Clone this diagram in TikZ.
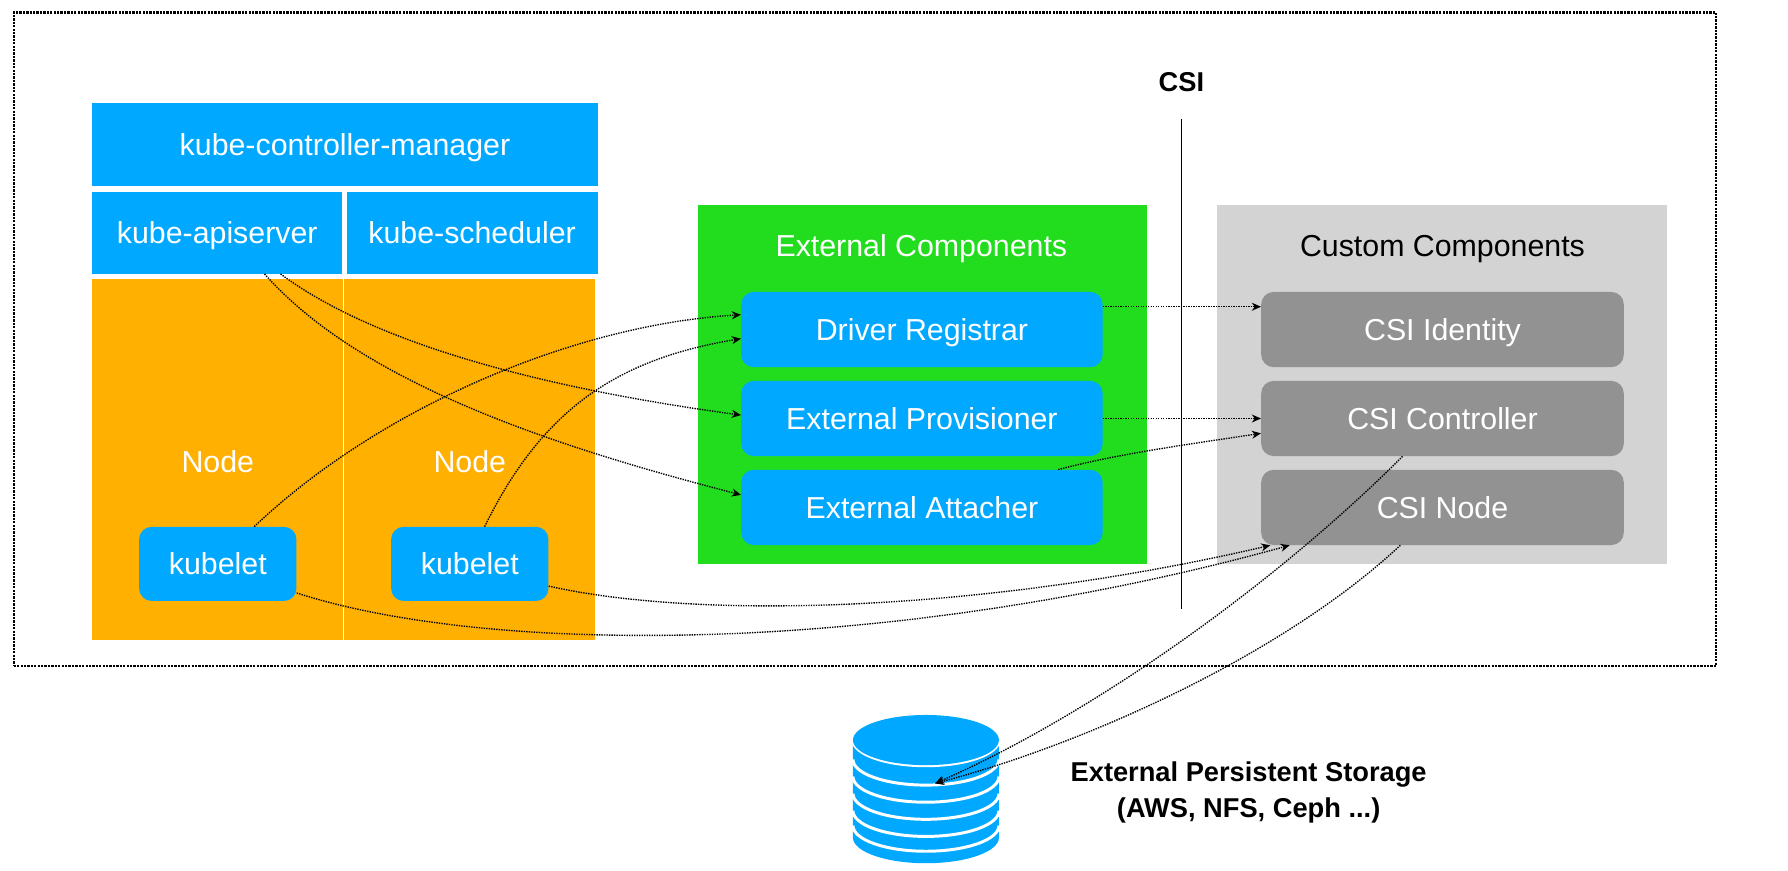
\documentclass[tikz,border=0pt]{standalone}
\usepackage{fontspec}
\setmainfont{Liberation Sans}
\usetikzlibrary{arrows.meta}
\definecolor{kubeblue}{HTML}{00A9FF}
\definecolor{nodeorange}{HTML}{FFB000}
\definecolor{extgreen}{HTML}{22DD1E}
\definecolor{custgray}{HTML}{D3D3D3}
\definecolor{csigray}{HTML}{929292}
\tikzset{
	box/.style={inner sep=0pt, text=white, text height=19pt, text depth=0pt, font=\fontsize{26.6}{30}\selectfont},
	bluebox/.style={box, fill=kubeblue},
	nodebox/.style={box, fill=nodeorange, minimum width=220pt, minimum height=316pt},
	kubeletbox/.style={bluebox, rounded corners=11pt, minimum width=138pt, minimum height=65pt},
	extbox/.style={bluebox, rounded corners=11pt, minimum width=317pt, minimum height=66pt},
	csibox/.style={box, fill=csigray, rounded corners=11pt, minimum width=318pt, minimum height=66pt},
	groupbox/.style={box, minimum width=394pt, minimum height=315pt},
	title/.style={inner sep=0pt, text height=19pt, text depth=0pt, font=\fontsize{26.6}{30}\selectfont},
	boldtitle/.style={inner sep=0pt, text height=17pt, text depth=0pt, font=\fontsize{23.9}{30}\selectfont\bfseries},
	link/.style={densely dotted, line width=1.2pt, -{Stealth[length=8pt,width=7pt]}}
}
\begin{document}
\begin{tikzpicture}[x=1pt,y=-1pt]
\useasboundingbox (0,0) rectangle (1568,763);
\node[minimum width=1493pt, minimum height=573pt, draw=black, densely dotted, line width=2pt] (outer) at (758.5,297.5) {};
\node[bluebox, minimum width=443pt, minimum height=73pt] (manager) at (302.5,126.5) {kube-controller-manager};
\node[bluebox, minimum width=219pt, minimum height=72pt] (apiserver) at (190.5,204) {kube-apiserver};
\node[bluebox, minimum width=220pt, minimum height=72pt] (scheduler) at (414,204) {kube-scheduler};
\node[nodebox] (nodeA) at (191,403) {};
\node[nodebox] (nodeB) at (412,403) {};
\node[title, text=white] (nodeAtext) at (191,405) {Node};
\node[title, text=white] (nodeBtext) at (412,405) {Node};
\node[kubeletbox] (kubeletA) at (191,494.5) {kubelet};
\node[kubeletbox] (kubeletB) at (412,494.5) {kubelet};
\node[groupbox, fill=extgreen] (external) at (809,337.5) {};
\node[title, text=white] (externaltext) at (808,215) {External Components};
\node[extbox] (registrar) at (808.5,289) {Driver Registrar};
\node[extbox] (provisioner) at (808.5,367) {External Provisioner};
\node[extbox] (attacher) at (808.5,445) {External Attacher};
\node[groupbox, fill=custgray] (custom) at (1264.5,337.5) {};
\node[title] (customtext) at (1265,215) {Custom Components};
\node[csibox] (identity) at (1265,289) {CSI Identity};
\node[csibox] (controller) at (1265,367) {CSI Controller};
\node[csibox] (csinode) at (1265,445) {CSI Node};
\node[boldtitle] (csitext) at (1036,72) {CSI};
\coordinate (csitop) at (1036,104);
\coordinate (csibottom) at (1036,534);
\draw[line width=1.4pt] (csitop) -- (csibottom);
\fill[kubeblue] (748,649) -- (876,649) -- (876,734.5) arc [start angle=0, end angle=-180, x radius=64pt, y radius=22.5pt] -- cycle;
\foreach \y in {724,711,696,681,666,649}
	\draw[white, line width=2.6pt] (748,\y) arc [start angle=180, end angle=360, x radius=64pt, y radius=22.5pt];
\fill[kubeblue] (812,649) ellipse (64pt and 22pt);
\coordinate (storage) at (820,687);
\node[boldtitle] (storagetext) at (1095,677) {External Persistent Storage};
\node[boldtitle] (storagesub) at (1095,708) {(AWS, NFS, Ceph ...)};
\draw[link] ([xshift=41.5pt]apiserver.south) .. controls (320,340) and (500,395) .. ([yshift=11pt]attacher.west);
\draw[link] ([xshift=55.5pt]apiserver.south) .. controls (340,310) and (510,345) .. ([yshift=3pt]provisioner.west);
\draw[link] ([xshift=32pt]kubeletA.north) .. controls (330,360) and (500,285) .. ([yshift=13pt]registrar.west);
\draw[link] ([xshift=13pt]kubeletB.north) .. controls (475,360) and (540,315) .. ([yshift=-8pt]registrar.west);
\draw[link] ([yshift=20pt]registrar.east) -- ([yshift=20pt]identity.west);
\draw[link] (provisioner.east) -- (controller.west);
\draw[link] ([xshift=119.5pt]attacher.north) .. controls (980,398) and (1040,390) .. ([yshift=-13pt]controller.west);
\draw[link] ([yshift=-25.5pt]kubeletA.east) .. controls (430,575) and (780,575) .. ([xshift=-134pt]csinode.south);
\draw[link] ([yshift=-19.5pt]kubeletB.east) .. controls (620,545) and (870,535) .. ([xshift=-151pt]csinode.south);
\draw[link] ([xshift=-35pt]controller.south) .. controls (1110,520) and (950,630) .. (storage);
\draw[link] ([xshift=-37pt]csinode.south) .. controls (1130,570) and (960,650) .. (storage);
\end{tikzpicture}
\end{document}
